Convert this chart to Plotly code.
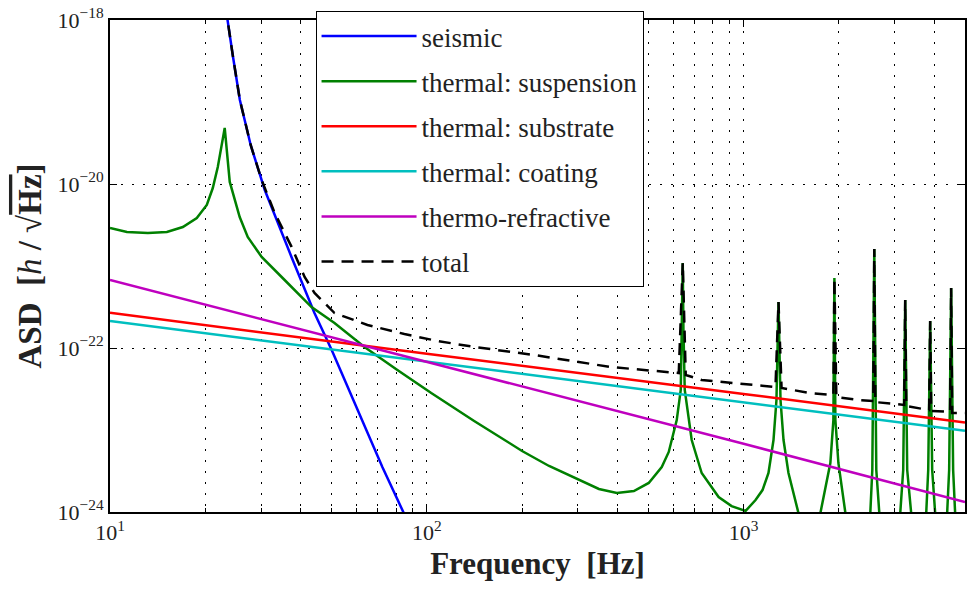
import plotly.graph_objects as go

# ---------------- data ----------------
seis_f = [23.2, 23.5, 24.4, 25.7, 27.8, 30.8, 37.4, 44.2, 50.1, 60.4, 72.4, 84.3, 88.0]
seis_a = [1.5e-18, 1.0e-18, 3.74e-19, 1.06e-19, 2.99e-20, 8.45e-21, 1.29e-21, 2.67e-22,
          9.45e-23, 1.75e-23, 3.54e-24, 1.0e-24, 7.0e-25]

susp_f = [10.0, 11.31, 13.17, 15.12, 16.98, 18.79, 20.21, 21.11, 21.89, 23.02, 23.88, 25.67,
          27.21, 30.11, 35.58, 43.27, 51.13, 63.57, 80.75, 103.3, 141.1, 169.2, 199.9,
          243.2, 302.2, 349.4, 398.1, 450.5, 502.0, 551.7, 580.5, 615.2, 633.4, 639.3,
          642.7, 645.9, 652.1, 685.9, 737.5, 834.1, 916.7, 1014.7,
          1090.9, 1147.6, 1198.4, 1243.0, 1270.0, 1289.0, 1308.0, 1337.0, 1386.0, 1490.0,
          1614.0,
          1748.0, 1879.0, 1921.0, 1935.0, 1949.0, 1992.0, 2096.0, 2303.0,
          2512.0, 2549.0, 2586.0, 2624.0, 2682.0, 2884.0,
          3123.0, 3191.0, 3238.0, 3285.0, 3381.0, 3558.0,
          3772.0, 3827.0, 3882.0, 3939.0, 4025.0, 4205.0,
          4392.0, 4456.0, 4521.0, 4587.0, 4654.0, 5000.0]
susp_a = [2.90e-21, 2.60e-21, 2.52e-21, 2.60e-21, 2.99e-21, 3.85e-21, 5.55e-21, 8.93e-21,
          1.61e-20, 4.82e-20, 1.06e-20, 3.96e-21,
          2.26e-21, 1.29e-21, 6.75e-22, 3.16e-22, 2.02e-22, 1.03e-22, 5.39e-23, 2.82e-23,
          1.29e-23, 8.22e-24, 5.55e-24,
          3.64e-24, 2.45e-24, 1.91e-24, 1.71e-24, 1.80e-24, 2.26e-24, 3.54e-24, 5.40e-24,
          1.32e-23, 3.08e-23, 1.66e-22,
          1.09e-21, 1.66e-22, 3.08e-23, 7.55e-24, 2.99e-24, 1.52e-24, 1.18e-24, 1.03e-24,
          1.40e-24, 1.85e-24, 2.99e-24, 7.55e-24, 2.32e-23, 3.64e-22, 2.32e-23, 7.55e-24,
          2.99e-24, 9.73e-25,
          4.0e-25,
          9.73e-25, 3.96e-24, 1.32e-23, 7.14e-22, 1.32e-23, 3.96e-24, 9.73e-25, 4.0e-25,
          9.73e-25, 3.25e-24, 1.61e-21, 3.25e-24, 9.73e-25, 4.0e-25,
          9.73e-25, 3.25e-24, 3.85e-22, 3.25e-24, 9.73e-25, 4.0e-25,
          9.73e-25, 3.25e-24, 2.13e-22, 3.25e-24, 9.73e-25, 4.0e-25,
          9.73e-25, 3.25e-24, 5.40e-22, 3.25e-24, 9.73e-25, 4.0e-25]

subs_f = [10.0, 100.0, 1000.0, 5000.0]
subs_a = [2.69e-22, 8.5e-23, 2.75e-23, 1.23e-23]

coat_f = [10.0, 100.0, 1000.0, 5000.0]
coat_a = [2.14e-22, 6.8e-23, 2.19e-23, 9.8e-24]

tr_f = [10.0, 100.0, 1000.0, 5000.0]
tr_a = [6.76e-22, 6.8e-23, 6.8e-24, 1.32e-24]

tot_f = [23.2, 23.5, 24.4, 25.7, 27.8, 30.11, 33.10, 37.43, 41.15, 44.22, 51.13, 64.97,
         84.95, 107.9, 141.1, 218.1, 381.1, 624.3, 642.7, 656.8, 737.5, 916.7, 1261.0,
         1289.0, 1318.0, 1626.0, 1921.0, 1935.0, 1963.0, 2303.0, 2567.0, 2586.0, 2605.0,
         3214.0, 3238.0, 3262.0, 3853.0, 3882.0, 3910.0, 4487.0, 4521.0, 4553.0, 5000.0]
tot_a = [1.5e-18, 1.0e-18, 3.74e-19, 1.06e-19, 2.99e-20, 1.12e-20, 4.43e-21, 1.71e-21,
         7.35e-22, 4.69e-22, 2.67e-22, 1.91e-22, 1.48e-22, 1.22e-22, 1.03e-22, 8.22e-23,
         5.86e-23, 4.95e-23, 1.09e-21, 4.69e-23, 4.07e-23, 3.74e-23, 3.34e-23, 3.64e-22,
         3.25e-23, 2.82e-23, 2.67e-23, 7.14e-22, 2.52e-23, 2.32e-23, 2.26e-23, 1.61e-21,
         2.19e-23, 2.02e-23, 3.85e-22, 1.96e-23, 1.75e-23, 2.13e-22, 1.71e-23, 1.66e-23,
         5.40e-22, 1.61e-23, 1.61e-23]

x_major = [10, 100, 1000]
x_major_text = ["10<sup>1</sup>", "10<sup>2</sup>", "10<sup>3</sup>"]
x_minor = [20, 30, 40, 50, 60, 70, 80, 90, 200, 300, 400, 500, 600, 700, 800, 900,
           2000, 3000, 4000]
y_major = [1e-24, 1e-22, 1e-20, 1e-18]
y_major_text = ["10<sup>−24</sup>", "10<sup>−22</sup>", "10<sup>−20</sup>", "10<sup>−18</sup>"]

series = [
    ("seismic", seis_f, seis_a, "#0000FF", "solid"),
    ("thermal: suspension", susp_f, susp_a, "#008000", "solid"),
    ("thermal: substrate", subs_f, subs_a, "#FF0000", "solid"),
    ("thermal: coating", coat_f, coat_a, "#00BFBF", "solid"),
    ("thermo-refractive", tr_f, tr_a, "#BF00BF", "solid"),
    ("total", tot_f, tot_a, "#000000", "12px,8px"),
]

FONT = "Liberation Serif"

fig = go.Figure()
for i, (name, fx, fy, col, dash) in enumerate(series):
    fig.add_trace(go.Scatter(
        x=fx, y=fy, mode="lines", name=name, legendgroup=f"g{i}",
        line=dict(color=col, width=2.5, dash=dash),
    ))

fig.update_layout(
    width=967, height=590,
    margin=dict(l=110, r=0, t=20, b=78),
    paper_bgcolor="white", plot_bgcolor="white",
    font=dict(family=FONT, color="black", size=21),
    showlegend=True,
    legend=dict(
        x=0.2404, y=1.0183, xanchor="left", yanchor="top",
        bgcolor="white", bordercolor="black", borderwidth=1,
        font=dict(family=FONT, size=27, color="#222"),
        traceorder="grouped", tracegroupgap=7, itemwidth=95,
    ),
    xaxis=dict(
        type="log", range=[1, 3.69897],
        tickmode="array", tickvals=x_major, ticktext=x_major_text,
        ticks="inside", ticklen=7, tickwidth=1, tickcolor="black",
        showline=True, linecolor="black", linewidth=2, mirror="ticks",
        showgrid=True, gridcolor="black", gridwidth=1, griddash="2px,9px",
        minor=dict(tickmode="array", tickvals=x_minor, ticks="inside", ticklen=4,
                   tickcolor="black", showgrid=True, gridcolor="black",
                   gridwidth=1, griddash="2px,9px"),
        tickfont=dict(family=FONT, size=22, color="#222"),
        title=dict(text="<b>Frequency  [Hz]</b>", font=dict(family=FONT, size=31, color="#222"),
                   standoff=8),
        zeroline=False,
    ),
    yaxis=dict(
        type="log", range=[-24, -18],
        tickmode="array", tickvals=y_major, ticktext=y_major_text,
        ticks="inside", ticklen=7, tickwidth=1, tickcolor="black",
        showline=True, linecolor="black", linewidth=2, mirror="ticks",
        showgrid=True, gridcolor="black", gridwidth=1, griddash="2px,9px",
        tickfont=dict(family=FONT, size=22, color="#222"),
        title=dict(text="<b>ASD  [</b><i>h</i><b> / √<span style='text-decoration:overline'>Hz</span>]</b>",
                   font=dict(family=FONT, size=33, color="#222"), standoff=6),
        zeroline=False,
    ),
)

fig.write_html("out.html")
